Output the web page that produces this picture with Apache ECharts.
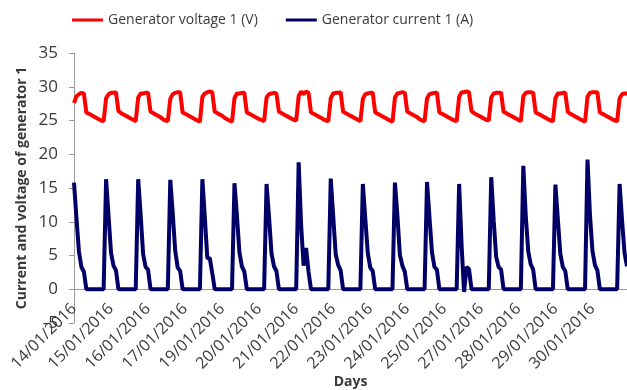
<!DOCTYPE html>
<html>
<head>
<meta charset="utf-8">
<script src="https://cdn.jsdelivr.net/npm/echarts@6/dist/echarts.min.js"></script>
<style>
  html, body { margin: 0; padding: 0; background: #fff; }
  #chart { width: 627px; height: 390px; }
</style>
</head>
<body>
<div id="chart"></div>
<script>
// Date labels shown along the time axis, one every 15 samples
const tickLabels = [
  '14/01/2016', '15/01/2016', '16/01/2016', '17/01/2016', '19/01/2016',
  '20/01/2016', '21/01/2016', '22/01/2016', '23/01/2016', '24/01/2016',
  '25/01/2016', '27/01/2016', '28/01/2016', '29/01/2016', '30/01/2016'
];
const samplesPerLabel = 15;

// Generator voltage 1 (V), logged samples (one row per daily charge cycle)
const voltage = [
  27.6, 28.6, 28.9, 29.1, 29.0, 26.2, 26.0, 25.8, 25.6, 25.4, 25.2, 25.0, 24.9,
  28.3, 28.9, 29.1, 29.1, 29.2, 26.4, 26.1, 25.9, 25.7, 25.5, 25.3, 25.1, 24.9,
  28.4, 29.0, 29.0, 29.1, 29.1, 26.3, 26.1, 25.9, 25.7, 25.5, 25.2, 25.0, 24.9,
  28.2, 28.9, 29.1, 29.2, 29.2, 26.2, 26.0, 25.8, 25.6, 25.4, 25.2, 25.0, 24.8,
  28.5, 29.0, 29.2, 29.3, 29.2, 26.3, 26.1, 25.9, 25.7, 25.4, 25.2, 25.0, 24.8,
  28.3, 29.0, 29.0, 29.1, 29.1, 26.2, 26.0, 25.8, 25.6, 25.4, 25.2, 25.1, 24.9,
  28.4, 28.9, 29.0, 29.1, 29.0, 26.3, 26.1, 25.9, 25.7, 25.5, 25.3, 25.1, 25.0,
  28.6, 29.3, 28.9, 29.3, 29.1, 26.2, 26.0, 25.8, 25.6, 25.4, 25.2, 25.0, 24.9,
  28.3, 29.0, 29.1, 29.1, 29.2, 26.3, 26.1, 25.9, 25.7, 25.5, 25.3, 25.1, 24.9,
  28.2, 28.9, 29.0, 29.1, 29.1, 26.2, 26.0, 25.8, 25.6, 25.4, 25.2, 25.0, 24.8,
  28.4, 29.0, 29.1, 29.2, 29.1, 26.3, 26.1, 25.9, 25.7, 25.5, 25.2, 25.0, 24.9,
  28.3, 28.9, 29.0, 29.1, 29.1, 26.2, 26.0, 25.8, 25.6, 25.4, 25.2, 25.0, 24.9,
  28.5, 29.2, 29.2, 29.3, 29.2, 26.4, 26.1, 25.9, 25.7, 25.5, 25.3, 25.1, 25.0,
  28.4, 29.0, 29.1, 29.1, 29.1, 26.3, 26.1, 25.9, 25.7, 25.5, 25.3, 25.1, 24.9,
  28.6, 29.1, 29.2, 29.2, 29.1, 26.2, 26.0, 25.8, 25.6, 25.4, 25.2, 25.0, 24.9,
  28.3, 29.0, 29.0, 29.1, 29.1, 26.3, 26.0, 25.8, 25.6, 25.4, 25.2, 25.0, 24.8,
  28.5, 29.1, 29.2, 29.2, 29.2, 26.2, 26.0, 25.8, 25.6, 25.4, 25.2, 25.0, 24.9,
  28.3, 28.9, 29.0, 29.0
];

// Generator current 1 (A), same sampling
const current = [
  15.8, 10.5, 5.6, 3.3, 2.6, 0, 0, 0, 0, 0, 0, 0, 0,
  16.3, 10.8, 5.4, 3.5, 2.8, 0, 0, 0, 0, 0, 0, 0, 0,
  16.3, 11.0, 5.2, 3.3, 2.9, 0, 0, 0, 0, 0, 0, 0, 0,
  16.2, 11.2, 5.7, 3.2, 2.7, 0, 0, 0, 0, 0, 0, 0, 0,
  16.3, 10.6, 4.6, 4.6, 2.4, 0, 0, 0, 0, 0, 0, 0, 0,
  15.7, 10.9, 5.5, 3.4, 2.6, 0, 0, 0, 0, 0, 0, 0, 0,
  15.6, 10.7, 5.3, 3.4, 2.7, 0, 0, 0, 0, 0, 0, 0, 0,
  18.8, 9.5, 3.5, 6.1, 2.6, 0, 0, 0, 0, 0, 0, 0, 0,
  16.4, 10.8, 5.2, 3.6, 2.8, 0, 0, 0, 0, 0, 0, 0, 0,
  15.6, 10.4, 5.4, 3.2, 2.7, 0, 0, 0, 0, 0, 0, 0, 0,
  15.8, 10.9, 5.1, 3.5, 2.6, 0, 0, 0, 0, 0, 0, 0, 0,
  15.9, 10.6, 5.5, 3.3, 2.9, 0, 0, 0, 0, 0, 0, 0, 0,
  15.6, 6.5, -0.4, 3.3, 3.0, 0, 0, 0, 0, 0, 0, 0, 0,
  16.6, 10.2, 4.8, 3.3, 2.9, 0, 0, 0, 0, 0, 0, 0, 0,
  18.3, 10.8, 5.6, 3.7, 2.9, 0, 0, 0, 0, 0, 0, 0, 0,
  15.5, 10.3, 5.2, 3.3, 2.7, 0, 0, 0, 0, 0, 0, 0, 0,
  19.2, 11.0, 5.7, 3.6, 2.8, 0, 0, 0, 0, 0, 0, 0, 0,
  15.6, 10.2, 5.4, 3.4
];

const yMin = -5;
const yMax = 35;

const textColor = '#3a3a3a';
const axisColor = '#9a9a9a';
const fontFamily = '"Open Sans", "Liberation Sans", sans-serif';

const gridTop = 53;
const gridBottom = 67;
const chartHeight = 390;
// The time axis is drawn at zero current/voltage rather than at the bottom of the plot
const plotHeight = chartHeight - gridTop - gridBottom;
const zeroOffset = -plotHeight * (0 - yMin) / (yMax - yMin);

const toPairs = arr => arr.map((v, i) => [i, v]);

const chart = echarts.init(document.getElementById('chart'), null, { renderer: 'canvas' });

chart.setOption({
  animation: false,
  backgroundColor: '#ffffff',
  textStyle: { fontFamily: fontFamily, color: textColor },
  legend: {
    left: 67,
    top: 8,
    icon: 'rect',
    itemWidth: 31,
    itemHeight: 3,
    itemGap: 28,
    textStyle: { fontSize: 14, color: textColor, fontFamily: fontFamily },
    data: ['Generator voltage 1 (V)', 'Generator current 1 (A)']
  },
  grid: { left: 74, right: 0, top: gridTop, bottom: gridBottom, containLabel: false, outerBoundsMode: 'none' },
  xAxis: {
    type: 'value',
    min: 0,
    max: voltage.length - 1,
    interval: samplesPerLabel,
    offset: zeroOffset,
    name: 'Days',
    nameLocation: 'middle',
    nameGap: 86,
    nameMoveOverlap: false,
    nameTextStyle: { fontSize: 14, fontWeight: 'bold', color: textColor, fontFamily: fontFamily },
    axisLine: { onZero: false, lineStyle: { color: axisColor, width: 1 } },
    axisTick: { show: false },
    splitLine: { show: false },
    axisLabel: {
      rotate: 45,
      margin: 17,
      fontSize: 16,
      color: textColor,
      fontFamily: fontFamily,
      hideOverlap: false,
      formatter: v => (v % samplesPerLabel === 0 ? (tickLabels[v / samplesPerLabel] || '') : '')
    }
  },
  yAxis: {
    type: 'value',
    min: yMin,
    max: yMax,
    interval: 5,
    name: 'Current and voltage of generator 1',
    nameLocation: 'middle',
    nameGap: 45,
    nameMoveOverlap: false,
    nameTextStyle: { fontSize: 14, fontWeight: 'bold', color: textColor, fontFamily: fontFamily },
    axisLine: { show: true, onZero: false, lineStyle: { color: axisColor, width: 1 } },
    axisTick: { show: true, length: 5, lineStyle: { color: axisColor } },
    splitLine: { show: false },
    axisLabel: { fontSize: 17, margin: 16, color: textColor, fontFamily: fontFamily }
  },
  series: [
    {
      name: 'Generator voltage 1 (V)',
      type: 'line',
      data: toPairs(voltage),
      showSymbol: false,
      color: '#ff0000',
      lineStyle: { color: '#ff0000', width: 4 }
    },
    {
      name: 'Generator current 1 (A)',
      type: 'line',
      data: toPairs(current),
      showSymbol: false,
      color: '#000066',
      lineStyle: { color: '#000066', width: 4 }
    }
  ]
});
</script>
</body>
</html>
